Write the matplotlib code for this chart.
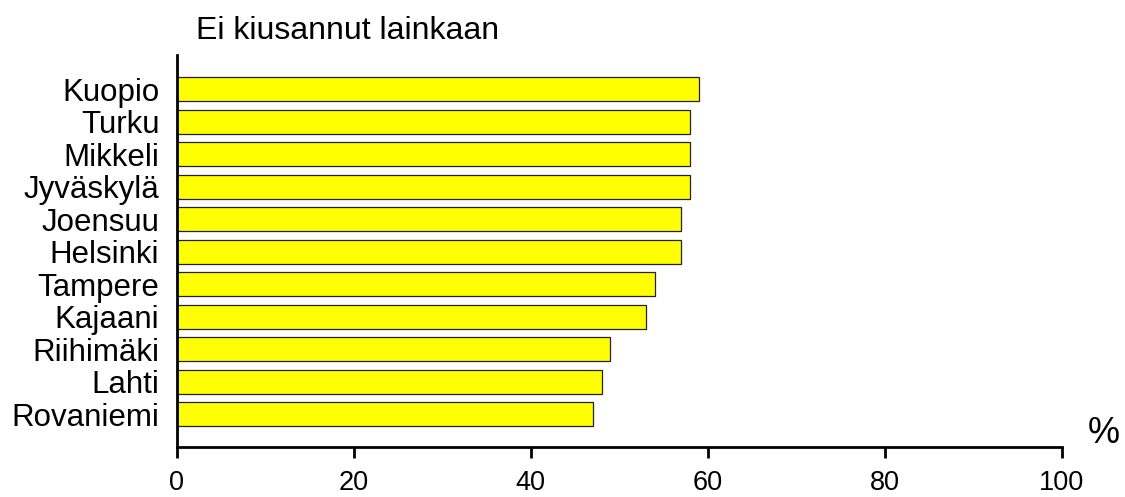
import matplotlib
matplotlib.use("Agg")
import matplotlib.pyplot as plt

plt.rcParams['font.family'] = ['Liberation Sans', 'DejaVu Sans']

cities = ["Kuopio", "Turku", "Mikkeli", "Jyväskylä", "Joensuu", "Helsinki",
          "Tampere", "Kajaani", "Riihimäki", "Lahti", "Rovaniemi"]
values = [59, 58, 58, 58, 57, 57, 54, 53, 49, 48, 47]
xticks = [0, 20, 40, 60, 80, 100]
title = "Ei kiusannut lainkaan"
unit = "%"

W, H = 1125, 497
fig = plt.figure(figsize=(W / 100, H / 100), dpi=100)
ax = fig.add_axes([176.7 / W, 1 - 446.7 / H, (1061.7 - 176.7) / W, (446.7 - 55) / H])

n = len(cities)
ypos = list(range(n - 1, -1, -1))
ax.barh(ypos, values, height=0.73, left=0, color="#FFFF00",
        edgecolor="#222222", linewidth=0.9, zorder=2)

ax.set_xlim(0, 100)
ax.set_ylim(-1, n - 1 + 1.05)
ax.set_xticks(xticks)
ax.set_xticklabels([str(t) for t in xticks], fontsize=19.5)
ax.set_yticks(ypos)
ax.set_yticklabels(cities, fontsize=22.5)

for s in ["top", "right"]:
    ax.spines[s].set_visible(False)
for s in ["left", "bottom"]:
    ax.spines[s].set_linewidth(2.0)
    ax.spines[s].set_color("black")
    ax.spines[s].set_zorder(3)

ax.tick_params(axis="x", direction="out", length=7.6, width=2.0, pad=9, colors="black")
ax.tick_params(axis="y", length=0, pad=12.5, colors="black")

fig.text(196.5 / W, 1 - 39 / H, title, fontsize=23, ha="left", va="baseline")
ax.text(104.7, -0.9, unit, fontsize=26, ha="center", va="baseline", clip_on=False)

fig.savefig("out.png", dpi=100)
